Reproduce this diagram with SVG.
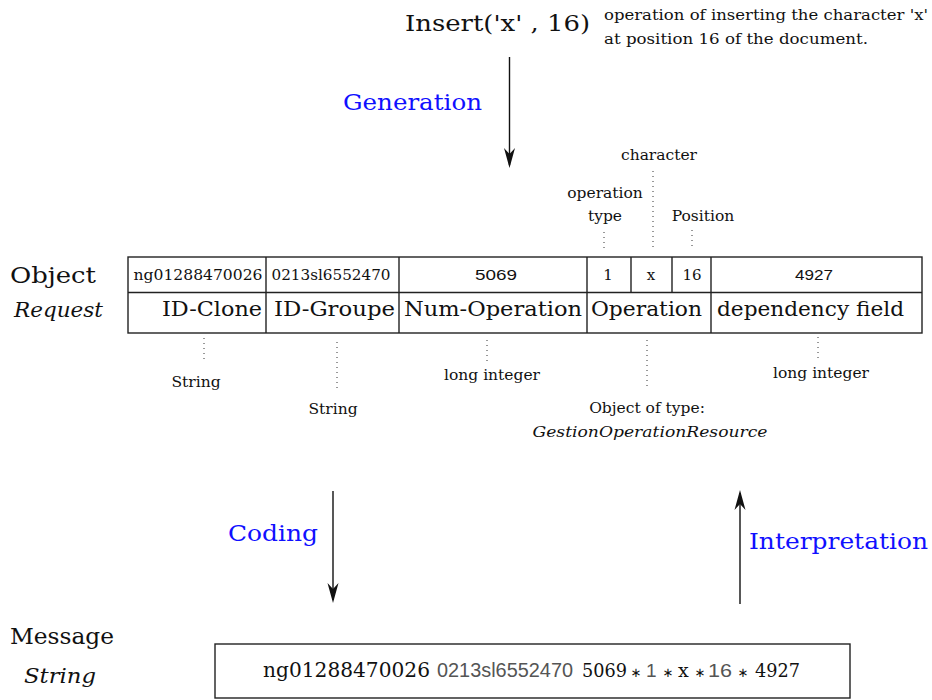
<svg xmlns="http://www.w3.org/2000/svg" width="932" height="700" viewBox="0 0 932 700">
<style>
  .serif { font-family: "DejaVu Serif", "Liberation Serif", serif; fill: #111; }
  .sans { font-family: "Liberation Sans", "DejaVu Sans", sans-serif; fill: #111; }
  .ital { font-family: "DejaVu Serif", "Liberation Serif", serif; font-style: italic; fill: #111; }
  .blue { font-family: "DejaVu Serif", "Liberation Serif", serif; fill: #1010ff; font-size: 22px; }
  .gray { fill: #555; }
  .ast { font-family: "DejaVu Sans", sans-serif; font-size: 13px; text-anchor: middle; fill: #111; }
  .cell { fill: none; stroke: #222; stroke-width: 1.4; }
  .dot { stroke: #333; stroke-width: 1; stroke-dasharray: 1 4; fill: none; }
  .arrow { stroke: #111; stroke-width: 1.4; fill: none; marker-end: url(#head); }
  .lbl { font-size: 15.5px; text-anchor: middle; }
  .row1 { font-size: 15px; text-anchor: middle; }
  .row2 { font-size: 21px; }
</style>
<defs>
  <marker id="head" markerUnits="userSpaceOnUse" viewBox="-22 -7 24 14" refX="-3" refY="0" markerWidth="24" markerHeight="14" orient="auto">
    <path d="M0,0 L-20,-5.5 L-14,0 L-20,5.5 Z" fill="#111" stroke="none"/>
  </marker>
</defs>

<g id="insert-op">
  <text class="serif" x="405" y="31" font-size="22" textLength="185" lengthAdjust="spacingAndGlyphs">Insert('x' , 16)</text>
</g>
<g id="insert-note">
  <text class="serif" x="604" y="20" font-size="14" textLength="324" lengthAdjust="spacingAndGlyphs">operation of inserting the character 'x'</text>
  <text class="serif" x="604" y="44" font-size="14" textLength="264" lengthAdjust="spacingAndGlyphs">at position 16 of the document.</text>
</g>

<g id="object-label">
  <text class="serif" x="10" y="283" font-size="23" textLength="86" lengthAdjust="spacingAndGlyphs">Object</text>
  <text class="ital" x="14" y="317" font-size="21" textLength="89" lengthAdjust="spacingAndGlyphs">Request</text>
</g>

<g id="object-request">
  <rect class="cell" x="128" y="257" width="794" height="76"/>
  <line class="cell" x1="128" y1="292.5" x2="922" y2="292.5"/>
  <line class="cell" x1="266" y1="257" x2="266" y2="333"/>
  <line class="cell" x1="399" y1="257" x2="399" y2="333"/>
  <line class="cell" x1="587" y1="257" x2="587" y2="333"/>
  <line class="cell" x1="631" y1="257" x2="631" y2="292.5"/>
  <line class="cell" x1="672" y1="257" x2="672" y2="292.5"/>
  <line class="cell" x1="711" y1="257" x2="711" y2="333"/>
  <text class="serif row1" x="198" y="280" textLength="129" lengthAdjust="spacingAndGlyphs">ng01288470026</text>
  <text class="serif row1" x="331" y="280" textLength="119" lengthAdjust="spacingAndGlyphs">0213sl6552470</text>
  <text class="sans row1" x="496" y="280" textLength="42" lengthAdjust="spacingAndGlyphs">5069</text>
  <text class="serif row1" x="608" y="280">1</text>
  <text class="serif row1" x="651" y="280" font-family="Liberation Mono">x</text>
  <text class="serif row1" x="692" y="280">16</text>
  <text class="sans row1" x="814" y="280" textLength="38" lengthAdjust="spacingAndGlyphs">4927</text>
  <text class="serif row2" x="162" y="316" textLength="100" lengthAdjust="spacingAndGlyphs">ID-Clone</text>
  <text class="serif row2" x="274" y="316" textLength="121" lengthAdjust="spacingAndGlyphs">ID-Groupe</text>
  <text class="serif row2" x="404" y="316" textLength="178" lengthAdjust="spacingAndGlyphs">Num-Operation</text>
  <text class="serif row2" x="591" y="316" textLength="111" lengthAdjust="spacingAndGlyphs">Operation</text>
  <text class="serif row2" x="717" y="316" textLength="187" lengthAdjust="spacingAndGlyphs">dependency field</text>
</g>

<g id="field-labels">
  <text class="serif lbl" x="659" y="160">character</text>
  <text class="serif lbl" x="605" y="198">operation</text>
  <text class="serif lbl" x="605" y="221">type</text>
  <text class="serif lbl" x="703" y="221">Position</text>
  <text class="serif lbl" x="196" y="387">String</text>
  <text class="serif lbl" x="333" y="414">String</text>
  <text class="serif lbl" x="492" y="380">long integer</text>
  <text class="serif lbl" x="821" y="378">long integer</text>
  <text class="serif lbl" x="647" y="413">Object of type:</text>
  <text class="ital lbl" x="650" y="437" textLength="235" lengthAdjust="spacingAndGlyphs">GestionOperationResource</text>
</g>

<g id="connectors">
  <line class="dot" x1="653" y1="171" x2="653" y2="251"/>
  <line class="dot" x1="604" y1="232" x2="604" y2="252"/>
  <line class="dot" x1="692" y1="230" x2="692" y2="250"/>
  <line class="dot" x1="204" y1="338" x2="204" y2="360"/>
  <line class="dot" x1="337" y1="342" x2="337" y2="392"/>
  <line class="dot" x1="487" y1="340" x2="487" y2="362"/>
  <line class="dot" x1="647" y1="340" x2="647" y2="390"/>
  <line class="dot" x1="818" y1="337" x2="818" y2="359"/>
  <line class="arrow" x1="509.5" y1="57" x2="509.5" y2="165"/>
  <line class="arrow" x1="333" y1="491" x2="333" y2="600"/>
  <line class="arrow" x1="740" y1="604" x2="740" y2="493"/>
</g>

<g id="arrow-labels">
  <text class="blue" x="343" y="110" textLength="139" lengthAdjust="spacingAndGlyphs">Generation</text>
  <text class="blue" x="228" y="541" textLength="90" lengthAdjust="spacingAndGlyphs">Coding</text>
  <text class="blue" x="749" y="549" textLength="179" lengthAdjust="spacingAndGlyphs">Interpretation</text>
</g>

<g id="message-label">
  <text class="serif" x="10" y="644" font-size="23" textLength="104" lengthAdjust="spacingAndGlyphs">Message</text>
  <text class="ital" x="24" y="683" font-size="21" textLength="72" lengthAdjust="spacingAndGlyphs">String</text>
</g>

<g id="message-string">
  <rect class="cell" x="215" y="644" width="635" height="54"/>
  <text class="serif" x="263" y="677" font-size="20" textLength="167" lengthAdjust="spacingAndGlyphs">ng01288470026</text>
  <text class="sans gray" x="437" y="677" font-size="20" textLength="136" lengthAdjust="spacingAndGlyphs">0213sl6552470</text>
  <text class="serif" x="582" y="677" font-size="19" textLength="45" lengthAdjust="spacingAndGlyphs">5069</text>
  <text class="ast" x="636" y="677">∗</text>
  <text class="sans gray" x="646" y="677" font-size="19">1</text>
  <text class="ast" x="668" y="677">∗</text>
  <text class="serif" x="678" y="677" font-size="19" font-family="Liberation Mono">x</text>
  <text class="ast" x="700" y="677">∗</text>
  <text class="sans gray" x="708" y="677" font-size="19" textLength="24" lengthAdjust="spacingAndGlyphs">16</text>
  <text class="ast" x="743" y="677">∗</text>
  <text class="serif" x="755" y="677" font-size="19" textLength="45" lengthAdjust="spacingAndGlyphs">4927</text>
</g>
</svg>
